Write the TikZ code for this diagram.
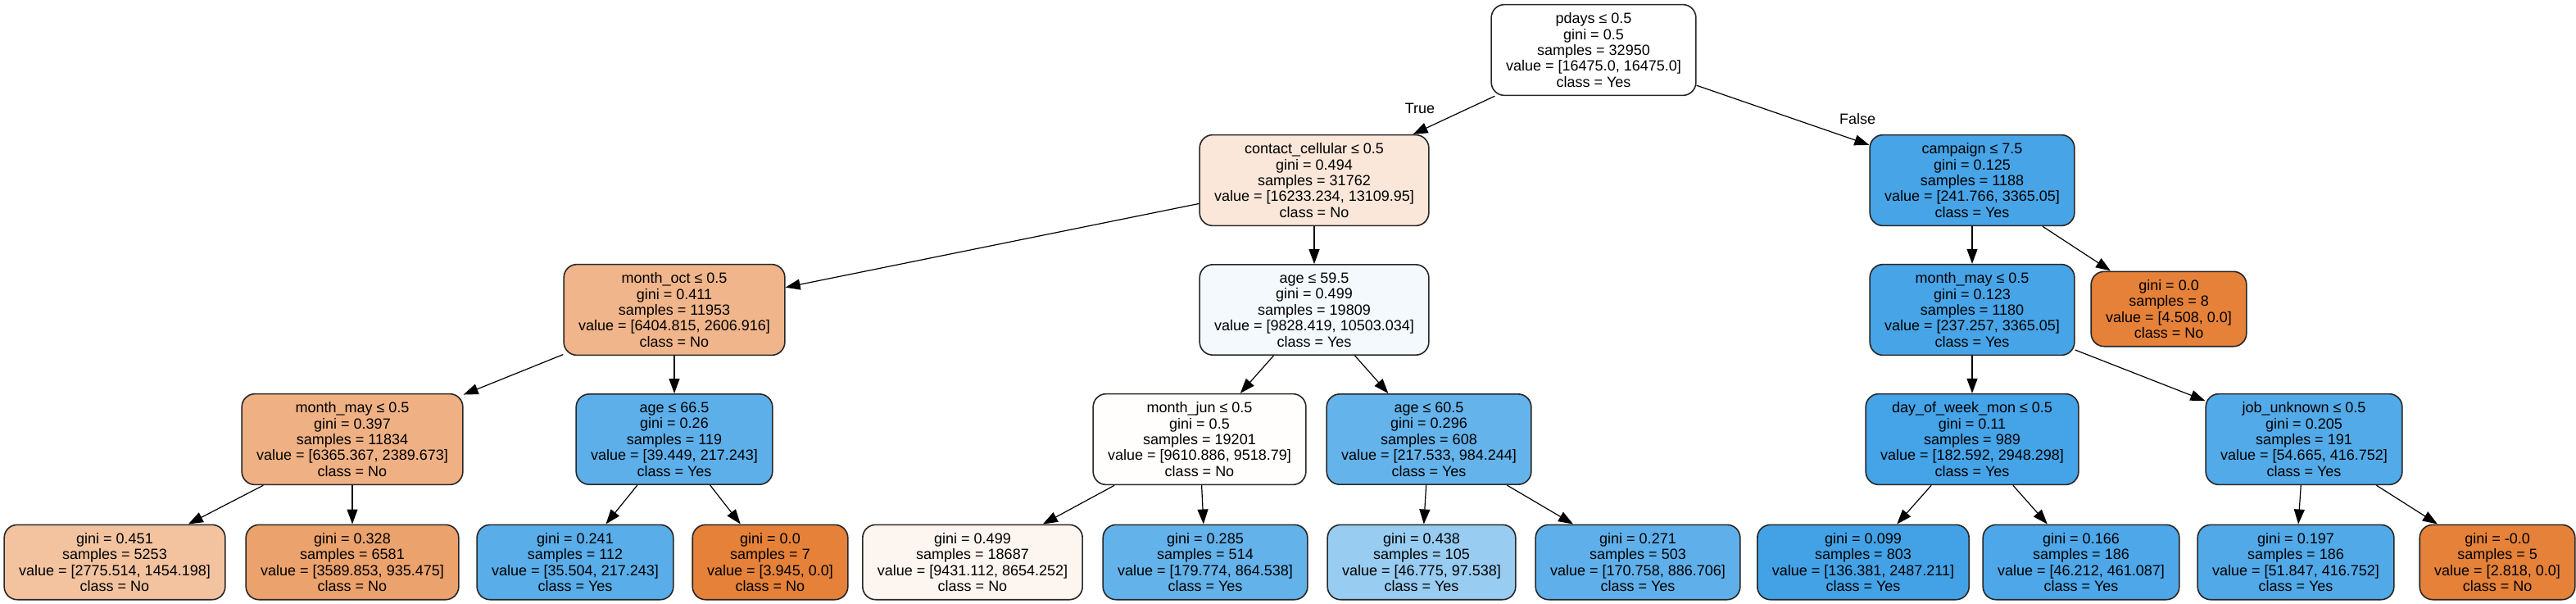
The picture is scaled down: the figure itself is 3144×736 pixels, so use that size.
\documentclass[tikz,border=0pt]{standalone}
\usepackage{fontspec}
\setmainfont{Liberation Sans}
\usetikzlibrary{arrows.meta}
\definecolor{dtorange}{RGB}{229,129,57}
\definecolor{dtblue}{RGB}{57,157,229}
\tikzset{
  dtbox/.style={draw=black!85, line width=0.8pt, rounded corners=8pt, align=center,
    font=\fontsize{9}{9.7}\selectfont, inner xsep=9pt, inner ysep=5pt},
  dtarrow/.style={-{Triangle[length=9pt,width=6.5pt]}, line width=0.6pt},
  dtlabel/.style={font=\fontsize{9}{9.7}\selectfont},
}

\begin{document}
\begin{tikzpicture}[x=0.5pt, y=-0.5pt]
  \useasboundingbox (0,0) rectangle (3144,736);
  % root
  \node[dtbox, fill=white] (root) at (1945,61)
    {pdays ≤ 0.5\\gini = 0.5\\samples = 32950\\value = [16475.0, 16475.0]\\class = Yes};
  % level 1
  \node[dtbox, fill=dtorange!19!white] (cell) at (1604,220)
    {contact\_cellular ≤ 0.5\\gini = 0.494\\samples = 31762\\value = [16233.234, 13109.95]\\class = No};
  \node[dtbox, fill=dtblue!93!white] (camp) at (2407,220)
    {campaign ≤ 7.5\\gini = 0.125\\samples = 1188\\value = [241.766, 3365.05]\\class = Yes};
  % level 2
  \node[dtbox, fill=dtorange!59!white] (oct) at (823,378)
    {month\_oct ≤ 0.5\\gini = 0.411\\samples = 11953\\value = [6404.815, 2606.916]\\class = No};
  \node[dtbox, fill=dtblue!6!white] (age1) at (1604,378)
    {age ≤ 59.5\\gini = 0.499\\samples = 19809\\value = [9828.419, 10503.034]\\class = Yes};
  \node[dtbox, fill=dtblue!93!white] (mayr) at (2407,378)
    {month\_may ≤ 0.5\\gini = 0.123\\samples = 1180\\value = [237.257, 3365.05]\\class = Yes};
  \node[dtbox, fill=dtorange] (camp8) at (2647,377)
    {gini = 0.0\\samples = 8\\value = [4.508, 0.0]\\class = No};
  % level 3
  \node[dtbox, fill=dtorange!62!white] (mayl) at (430,536)
    {month\_may ≤ 0.5\\gini = 0.397\\samples = 11834\\value = [6365.367, 2389.673]\\class = No};
  \node[dtbox, fill=dtblue!82!white] (age2) at (823,536)
    {age ≤ 66.5\\gini = 0.26\\samples = 119\\value = [39.449, 217.243]\\class = Yes};
  \node[dtbox, fill=dtorange!1!white] (jun) at (1464,536)
    {month\_jun ≤ 0.5\\gini = 0.5\\samples = 19201\\value = [9610.886, 9518.79]\\class = No};
  \node[dtbox, fill=dtblue!78!white] (age3) at (1744,536)
    {age ≤ 60.5\\gini = 0.296\\samples = 608\\value = [217.533, 984.244]\\class = Yes};
  \node[dtbox, fill=dtblue!94!white] (mon) at (2407,536)
    {day\_of\_week\_mon ≤ 0.5\\gini = 0.11\\samples = 989\\value = [182.592, 2948.298]\\class = Yes};
  \node[dtbox, fill=dtblue!87!white] (job) at (2812,536)
    {job\_unknown ≤ 0.5\\gini = 0.205\\samples = 191\\value = [54.665, 416.752]\\class = Yes};
  % leaves
  \node[dtbox, fill=dtorange!48!white] (l1) at (140,686)
    {gini = 0.451\\samples = 5253\\value = [2775.514, 1454.198]\\class = No};
  \node[dtbox, fill=dtorange!74!white] (l2) at (430,686)
    {gini = 0.328\\samples = 6581\\value = [3589.853, 935.475]\\class = No};
  \node[dtbox, fill=dtblue!84!white] (l3) at (702,686)
    {gini = 0.241\\samples = 112\\value = [35.504, 217.243]\\class = Yes};
  \node[dtbox, fill=dtorange] (l4) at (940,686)
    {gini = 0.0\\samples = 7\\value = [3.945, 0.0]\\class = No};
  \node[dtbox, fill=dtorange!8!white] (l5) at (1187,686)
    {gini = 0.499\\samples = 18687\\value = [9431.112, 8654.252]\\class = No};
  \node[dtbox, fill=dtblue!79!white] (l6) at (1471,686)
    {gini = 0.285\\samples = 514\\value = [179.774, 864.538]\\class = Yes};
  \node[dtbox, fill=dtblue!52!white] (l7) at (1735,686)
    {gini = 0.438\\samples = 105\\value = [46.775, 97.538]\\class = Yes};
  \node[dtbox, fill=dtblue!81!white] (l8) at (1999,686)
    {gini = 0.271\\samples = 503\\value = [170.758, 886.706]\\class = Yes};
  \node[dtbox, fill=dtblue!95!white] (l9) at (2274,686)
    {gini = 0.099\\samples = 803\\value = [136.381, 2487.211]\\class = Yes};
  \node[dtbox, fill=dtblue!90!white] (l10) at (2540,686)
    {gini = 0.166\\samples = 186\\value = [46.212, 461.087]\\class = Yes};
  \node[dtbox, fill=dtblue!88!white] (l11) at (2802,686)
    {gini = 0.197\\samples = 186\\value = [51.847, 416.752]\\class = Yes};
  \node[dtbox, fill=dtorange] (l12) at (3048,686)
    {gini = -0.0\\samples = 5\\value = [2.818, 0.0]\\class = No};
  % edges
  \draw[dtarrow] (root) -- (cell);
  \draw[dtarrow] (root) -- (camp);
  \draw[dtarrow] (cell) -- (oct);
  \draw[dtarrow] (cell) -- (age1);
  \draw[dtarrow] (camp) -- (mayr);
  \draw[dtarrow] (camp) -- (camp8);
  \draw[dtarrow] (oct) -- (mayl);
  \draw[dtarrow] (oct) -- (age2);
  \draw[dtarrow] (age1) -- (jun);
  \draw[dtarrow] (age1) -- (age3);
  \draw[dtarrow] (mayr) -- (mon);
  \draw[dtarrow] (mayr) -- (job);
  \draw[dtarrow] (mayl) -- (l1);
  \draw[dtarrow] (mayl) -- (l2);
  \draw[dtarrow] (age2) -- (l3);
  \draw[dtarrow] (age2) -- (l4);
  \draw[dtarrow] (jun) -- (l5);
  \draw[dtarrow] (jun) -- (l6);
  \draw[dtarrow] (age3) -- (l7);
  \draw[dtarrow] (age3) -- (l8);
  \draw[dtarrow] (mon) -- (l9);
  \draw[dtarrow] (mon) -- (l10);
  \draw[dtarrow] (job) -- (l11);
  \draw[dtarrow] (job) -- (l12);
  % branch labels
  \node[dtlabel] (lbltrue) at (1733,132) {True};
  \node[dtlabel] (lblfalse) at (2267,145) {False};
\end{tikzpicture}
\end{document}
